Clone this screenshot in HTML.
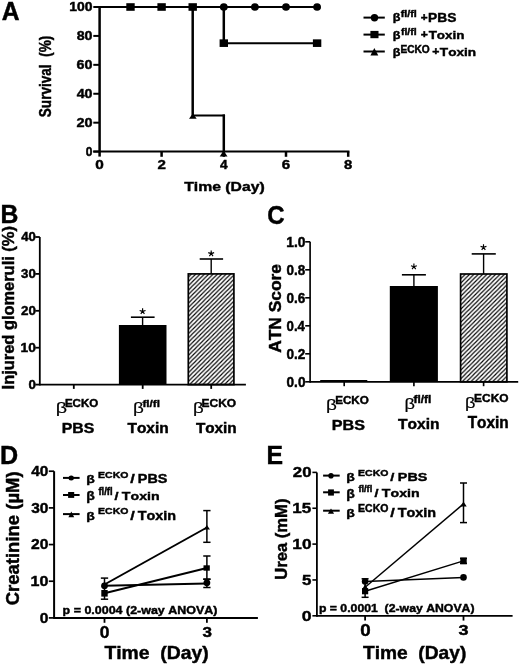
<!DOCTYPE html>
<html><head><meta charset="utf-8"><style>
html,body{margin:0;padding:0;background:#fff;}
svg{display:block;filter:grayscale(1);}
text{font-family:"Liberation Sans",sans-serif;fill:#000;white-space:pre;font-variant-ligatures:none;font-kerning:none;}
line,polyline,path{stroke:#000;stroke-linecap:butt;}
</style></head><body>
<svg xml:space="preserve" width="520" height="666" viewBox="0 0 520 666">
<defs>
<pattern id="hatch" patternUnits="userSpaceOnUse" width="4.35" height="4.35">
<path d="M-1,1 L1,-1 M0,4.35 L4.35,0 M3.35,5.35 L5.35,3.35" stroke="#000" stroke-width="1.15"/>
</pattern>
</defs>
<rect width="520" height="666" fill="#fff"/>
<text transform="translate(1.78,19.6) scale(0.9620,1)" font-size="25.6" font-weight="bold" stroke="#000" stroke-width="0.46">A</text>
<line x1="99.6" y1="6" x2="99.6" y2="156.6" stroke-width="2.5"/>
<line x1="93.3" y1="151.6" x2="349.45" y2="151.6" stroke-width="2"/>
<line x1="93.3" y1="151.6" x2="99.6" y2="151.6" stroke-width="2"/>
<line x1="93.3" y1="122.68" x2="99.6" y2="122.68" stroke-width="2"/>
<line x1="93.3" y1="93.76" x2="99.6" y2="93.76" stroke-width="2"/>
<line x1="93.3" y1="64.84" x2="99.6" y2="64.84" stroke-width="2"/>
<line x1="93.3" y1="35.92" x2="99.6" y2="35.92" stroke-width="2"/>
<line x1="93.3" y1="7" x2="99.6" y2="7" stroke-width="2"/>
<line x1="161.6" y1="151.6" x2="161.6" y2="156.8" stroke-width="2.5"/>
<line x1="223.8" y1="151.6" x2="223.8" y2="156.8" stroke-width="2.5"/>
<line x1="286" y1="151.6" x2="286" y2="156.8" stroke-width="2.5"/>
<line x1="348.2" y1="151.6" x2="348.2" y2="156.8" stroke-width="2.5"/>
<text transform="translate(85.72,155.8) scale(0.9964,1)" font-size="12.04" font-weight="bold" stroke="#000" stroke-width="0.45">0</text>
<text transform="translate(76.39,126.88) scale(1.2034,1)" font-size="12.04" font-weight="bold" stroke="#000" stroke-width="0.41">20</text>
<text transform="translate(76.69,97.96) scale(1.1806,1)" font-size="12.04" font-weight="bold" stroke="#000" stroke-width="0.41">40</text>
<text transform="translate(76.56,69.04) scale(1.1902,1)" font-size="12.04" font-weight="bold" stroke="#000" stroke-width="0.41">60</text>
<text transform="translate(76.64,40.12) scale(1.1845,1)" font-size="12.04" font-weight="bold" stroke="#000" stroke-width="0.41">80</text>
<text transform="translate(69.23,11.2) scale(1.1567,1)" font-size="12.04" font-weight="bold" stroke="#000" stroke-width="0.42">100</text>
<text transform="translate(95.14,168.9) scale(1.2044,1)" font-size="12.76" font-weight="bold" stroke="#000" stroke-width="0.41">0</text>
<text transform="translate(157.42,168.9) scale(1.1857,1)" font-size="12.76" font-weight="bold" stroke="#000" stroke-width="0.41">2</text>
<text transform="translate(219.95,168.9) scale(1.0540,1)" font-size="12.95" font-weight="bold" stroke="#000" stroke-width="0.44">4</text>
<text transform="translate(281.78,168.9) scale(1.1857,1)" font-size="12.76" font-weight="bold" stroke="#000" stroke-width="0.41">6</text>
<text transform="translate(344.07,168.9) scale(1.1616,1)" font-size="12.76" font-weight="bold" stroke="#000" stroke-width="0.42">8</text>
<text transform="translate(184.14,191.3) scale(1.1909,1)" font-size="13.24" font-weight="bold" stroke="#000" stroke-width="0.41">Time (Day)</text>
<text transform="translate(50.9,117.21) rotate(-90) scale(0.8408,1)" font-size="16.15" font-weight="bold" stroke="#000" stroke-width="0.45">Survival  (%)</text>
<line x1="99.6" y1="7" x2="317.1" y2="7" stroke-width="2"/>
<line x1="223.8" y1="7" x2="223.8" y2="43.15" stroke-width="2.5"/>
<line x1="222.55" y1="43.15" x2="317.1" y2="43.15" stroke-width="2"/>
<line x1="192.7" y1="7" x2="192.7" y2="116.45" stroke-width="2.5"/>
<line x1="192.7" y1="115.45" x2="225.05" y2="115.45" stroke-width="2"/>
<line x1="223.8" y1="114.45" x2="223.8" y2="151.6" stroke-width="2.5"/>
<ellipse cx="223.8" cy="7" rx="3.9" ry="3.8" fill="#000" stroke="none"/>
<ellipse cx="254.9" cy="7" rx="3.9" ry="3.8" fill="#000" stroke="none"/>
<ellipse cx="286" cy="7" rx="3.9" ry="3.8" fill="#000" stroke="none"/>
<ellipse cx="317.1" cy="7" rx="3.9" ry="3.8" fill="#000" stroke="none"/>
<rect x="126.3" y="3.2" width="8.4" height="7.6" fill="#000" stroke="none"/>
<rect x="157.4" y="3.2" width="8.4" height="7.6" fill="#000" stroke="none"/>
<rect x="188.5" y="3.2" width="8.4" height="7.6" fill="#000" stroke="none"/>
<rect x="219.6" y="39.35" width="8.4" height="7.6" fill="#000" stroke="none"/>
<rect x="312.9" y="39.35" width="8.4" height="7.6" fill="#000" stroke="none"/>
<polygon points="189,118.7 196.7,118.7 192.85,113.6" fill="#000" stroke="none"/>
<polygon points="219.7,156.5 227.5,156.5 223.6,150.6" fill="#000" stroke="none"/>
<line x1="363.5" y1="17.6" x2="384.8" y2="17.6" stroke-width="2"/>
<line x1="363.5" y1="34.6" x2="384.8" y2="34.6" stroke-width="2"/>
<line x1="363.5" y1="51.5" x2="384.8" y2="51.5" stroke-width="2"/>
<ellipse cx="374.5" cy="17.8" rx="3.7" ry="3.7" fill="#000" stroke="none"/>
<rect x="370.4" y="30.9" width="8.1" height="7.3" fill="#000" stroke="none"/>
<polygon points="370.4,55.4 378.3,55.4 374.35,48" fill="#000" stroke="none"/>
<text transform="translate(392.72,21.45) scale(1.1643,1)" font-size="10.83" font-weight="bold" stroke="#000" stroke-width="0.42">β</text>
<text transform="translate(400.71,17.3) scale(1.2190,1)" font-size="8.83" font-weight="bold" stroke="#000" stroke-width="0.41">fl/fl</text>
<text transform="translate(420.8,21) scale(1.1365,1)" font-size="10.38" font-weight="bold" stroke="#000" stroke-width="0.42">+</text>
<text transform="translate(428.07,22.1) scale(1.1550,1)" font-size="11.9" font-weight="bold" stroke="#000" stroke-width="0.42">PBS</text>
<text transform="translate(392.72,38.93) scale(1.1529,1)" font-size="10.94" font-weight="bold" stroke="#000" stroke-width="0.42">β</text>
<text transform="translate(400.92,34.7) scale(1.2058,1)" font-size="8.69" font-weight="bold" stroke="#000" stroke-width="0.41">fl/fl</text>
<text transform="translate(420.78,38) scale(1.1946,1)" font-size="10.21" font-weight="bold" stroke="#000" stroke-width="0.41">+</text>
<text transform="translate(428.67,39.1) scale(1.2832,1)" font-size="10.47" font-weight="bold" stroke="#000" stroke-width="0.39">Toxin</text>
<text transform="translate(392.72,55.83) scale(1.1529,1)" font-size="10.94" font-weight="bold" stroke="#000" stroke-width="0.42">β</text>
<text transform="translate(400.41,52.5) scale(0.9862,1)" font-size="10.32" font-weight="bold" stroke="#000" stroke-width="0.45">ECKO</text>
<text transform="translate(432.28,55.4) scale(1.1750,1)" font-size="10.38" font-weight="bold" stroke="#000" stroke-width="0.41">+</text>
<text transform="translate(439.86,56.4) scale(1.2336,1)" font-size="11.05" font-weight="bold" stroke="#000" stroke-width="0.4">Toxin</text>
<text transform="translate(0.43,222.8) scale(0.9561,1)" font-size="25.89" font-weight="bold" stroke="#000" stroke-width="0.46">B</text>
<line x1="39.8" y1="237" x2="39.8" y2="385.5" stroke-width="1.8"/>
<line x1="39.8" y1="384.6" x2="245.9" y2="384.6" stroke-width="1.8"/>
<line x1="35.3" y1="384.6" x2="39.8" y2="384.6" stroke-width="1.8"/>
<line x1="35.3" y1="347.7" x2="39.8" y2="347.7" stroke-width="1.8"/>
<line x1="35.3" y1="310.8" x2="39.8" y2="310.8" stroke-width="1.8"/>
<line x1="35.3" y1="273.9" x2="39.8" y2="273.9" stroke-width="1.8"/>
<line x1="35.3" y1="237" x2="39.8" y2="237" stroke-width="1.8"/>
<line x1="73.8" y1="384.6" x2="73.8" y2="388.9" stroke-width="1.8"/>
<line x1="142.7" y1="384.6" x2="142.7" y2="388.9" stroke-width="1.8"/>
<line x1="211.2" y1="384.6" x2="211.2" y2="388.9" stroke-width="1.8"/>
<text transform="translate(28.47,389) scale(1.0279,1)" font-size="12.9" font-weight="bold" stroke="#000" stroke-width="0.44">0</text>
<text transform="translate(20.54,352.1) scale(1.0692,1)" font-size="12.9" font-weight="bold" stroke="#000" stroke-width="0.43">10</text>
<text transform="translate(20.93,315.2) scale(1.0408,1)" font-size="12.9" font-weight="bold" stroke="#000" stroke-width="0.44">20</text>
<text transform="translate(21.1,278.3) scale(1.0284,1)" font-size="12.9" font-weight="bold" stroke="#000" stroke-width="0.44">30</text>
<text transform="translate(21.2,241.4) scale(1.0211,1)" font-size="12.9" font-weight="bold" stroke="#000" stroke-width="0.45">40</text>
<text transform="translate(13.6,389.41) rotate(-90) scale(1.0372,1)" font-size="15.85" font-weight="bold" stroke="#000" stroke-width="0.45">Injured glomeruli (%)</text>
<rect x="118.9" y="325" width="47.6" height="59.6" fill="#000" stroke="none"/>
<line x1="142.6" y1="325" x2="142.6" y2="317.2" stroke-width="1.4"/>
<line x1="130.9" y1="317.2" x2="154.6" y2="317.2" stroke-width="1.6"/>
<rect x="188.3" y="273.9" width="45.6" height="110.7" fill="url(#hatch)" stroke="#000" stroke-width="1.7"/>
<line x1="211.2" y1="274" x2="211.2" y2="259" stroke-width="1.4"/>
<line x1="199.7" y1="259" x2="223.1" y2="259" stroke-width="1.6"/>
<path d="M142.6,311.4L142.6,308.3M142.6,311.4L145.55,310.44M142.6,311.4L144.42,313.91M142.6,311.4L140.78,313.91M142.6,311.4L139.65,310.44" stroke-width="1.15" stroke-linecap="round" fill="none"/>
<path d="M211.2,253.6L211.2,250.5M211.2,253.6L214.15,252.64M211.2,253.6L213.02,256.11M211.2,253.6L209.38,256.11M211.2,253.6L208.25,252.64" stroke-width="1.15" stroke-linecap="round" fill="none"/>
<text transform="translate(55.72,413.47) scale(1.3339,1)" font-size="14.71" font-weight="normal" font-family="Liberation Serif" stroke="#000" stroke-width="0.17">β</text>
<text transform="translate(64.92,407.1) scale(1.0884,1)" font-size="10.61" font-weight="bold" stroke="#000" stroke-width="0.43">ECKO</text>
<text transform="translate(61.73,433.1) scale(1.0731,1)" font-size="14.77" font-weight="bold" stroke="#000" stroke-width="0.43">PBS</text>
<text transform="translate(132.97,413.19) scale(1.3326,1)" font-size="14.17" font-weight="normal" font-family="Liberation Serif" stroke="#000" stroke-width="0.17">β</text>
<text transform="translate(142.4,407.1) scale(1.2454,1)" font-size="9.38" font-weight="bold" stroke="#000" stroke-width="0.4">fl/fl</text>
<text transform="translate(127.45,433.1) scale(1.0320,1)" font-size="14.98" font-weight="bold" stroke="#000" stroke-width="0.44">Toxin</text>
<text transform="translate(192.89,413.32) scale(1.2854,1)" font-size="14.5" font-weight="normal" font-family="Liberation Serif" stroke="#000" stroke-width="0.18">β</text>
<text transform="translate(201.59,407.1) scale(1.1290,1)" font-size="10.61" font-weight="bold" stroke="#000" stroke-width="0.42">ECKO</text>
<text transform="translate(195.95,433.1) scale(1.0214,1)" font-size="14.98" font-weight="bold" stroke="#000" stroke-width="0.45">Toxin</text>
<text transform="translate(267.24,223.7) scale(0.9037,1)" font-size="26.52" font-weight="bold" stroke="#000" stroke-width="0.47">C</text>
<line x1="310.1" y1="241.8" x2="310.1" y2="382.7" stroke-width="1.65"/>
<line x1="310.1" y1="381.8" x2="518.2" y2="381.8" stroke-width="1.65"/>
<line x1="305.2" y1="381.8" x2="310.1" y2="381.8" stroke-width="1.65"/>
<line x1="305.2" y1="353.8" x2="310.1" y2="353.8" stroke-width="1.65"/>
<line x1="305.2" y1="325.8" x2="310.1" y2="325.8" stroke-width="1.65"/>
<line x1="305.2" y1="297.8" x2="310.1" y2="297.8" stroke-width="1.65"/>
<line x1="305.2" y1="269.8" x2="310.1" y2="269.8" stroke-width="1.65"/>
<line x1="305.2" y1="241.8" x2="310.1" y2="241.8" stroke-width="1.65"/>
<line x1="344.2" y1="381.8" x2="344.2" y2="386.2" stroke-width="1.65"/>
<line x1="413.9" y1="381.8" x2="413.9" y2="386.2" stroke-width="1.65"/>
<line x1="483.6" y1="381.8" x2="483.6" y2="386.2" stroke-width="1.65"/>
<text transform="translate(286.56,386.7) scale(0.9201,1)" font-size="14.77" font-weight="bold" stroke="#000" stroke-width="0.47">0.0</text>
<text transform="translate(286.56,358.7) scale(0.9184,1)" font-size="14.77" font-weight="bold" stroke="#000" stroke-width="0.47">0.2</text>
<text transform="translate(286.57,330.7) scale(0.8962,1)" font-size="14.77" font-weight="bold" stroke="#000" stroke-width="0.47">0.4</text>
<text transform="translate(286.56,302.7) scale(0.9166,1)" font-size="14.77" font-weight="bold" stroke="#000" stroke-width="0.47">0.6</text>
<text transform="translate(286.56,274.7) scale(0.9132,1)" font-size="14.77" font-weight="bold" stroke="#000" stroke-width="0.47">0.8</text>
<text transform="translate(286.24,246.7) scale(0.9362,1)" font-size="14.77" font-weight="bold" stroke="#000" stroke-width="0.46">1.0</text>
<text transform="translate(280.9,352.83) rotate(-90) scale(1.0046,1)" font-size="17.31" font-weight="bold" stroke="#000" stroke-width="0.45">ATN Score</text>
<rect x="320.2" y="380" width="47.1" height="1.8" fill="#000" stroke="none"/>
<rect x="389.8" y="286" width="48.1" height="95.8" fill="#000" stroke="none"/>
<line x1="413.9" y1="286" x2="413.9" y2="274.8" stroke-width="1.4"/>
<line x1="401.9" y1="274.8" x2="425.9" y2="274.8" stroke-width="1.6"/>
<rect x="460.6" y="274.0" width="46.3" height="107.8" fill="url(#hatch)" stroke="#000" stroke-width="1.7"/>
<line x1="483.6" y1="274" x2="483.6" y2="253.9" stroke-width="1.4"/>
<line x1="471.7" y1="253.9" x2="495.8" y2="253.9" stroke-width="1.6"/>
<path d="M413.9,266.7L413.9,263.6M413.9,266.7L416.85,265.74M413.9,266.7L415.72,269.21M413.9,266.7L412.08,269.21M413.9,266.7L410.95,265.74" stroke-width="1.15" stroke-linecap="round" fill="none"/>
<path d="M483.5,247.3L483.5,244.2M483.5,247.3L486.45,246.34M483.5,247.3L485.32,249.81M483.5,247.3L481.68,249.81M483.5,247.3L480.55,246.34" stroke-width="1.15" stroke-linecap="round" fill="none"/>
<text transform="translate(326.07,410.23) scale(1.2645,1)" font-size="14.93" font-weight="normal" font-family="Liberation Serif" stroke="#000" stroke-width="0.18">β</text>
<text transform="translate(335.21,403.7) scale(1.0985,1)" font-size="10.61" font-weight="bold" stroke="#000" stroke-width="0.43">ECKO</text>
<text transform="translate(331.71,429.6) scale(1.0939,1)" font-size="14.77" font-weight="bold" stroke="#000" stroke-width="0.43">PBS</text>
<text transform="translate(404.52,409.02) scale(1.2512,1)" font-size="14.5" font-weight="normal" font-family="Liberation Serif" stroke="#000" stroke-width="0.18">β</text>
<text transform="translate(413.59,402.7) scale(1.1583,1)" font-size="10.21" font-weight="bold" stroke="#000" stroke-width="0.42">fl/fl</text>
<text transform="translate(398.04,429) scale(1.0079,1)" font-size="15.42" font-weight="bold" stroke="#000" stroke-width="0.45">Toxin</text>
<text transform="translate(464.92,407.73) scale(1.2146,1)" font-size="14.93" font-weight="normal" font-family="Liberation Serif" stroke="#000" stroke-width="0.18">β</text>
<text transform="translate(474.1,401.7) scale(1.0927,1)" font-size="10.9" font-weight="bold" stroke="#000" stroke-width="0.43">ECKO</text>
<text transform="translate(467.65,428.3) scale(0.9702,1)" font-size="15.85" font-weight="bold" stroke="#000" stroke-width="0.46">Toxin</text>
<text transform="translate(0.1,463.7) scale(0.9550,1)" font-size="26.33" font-weight="bold" stroke="#000" stroke-width="0.46">D</text>
<line x1="54.1" y1="471.22" x2="54.1" y2="618.9" stroke-width="2"/>
<line x1="54.1" y1="617.9" x2="257.9" y2="617.9" stroke-width="2"/>
<line x1="48.8" y1="617.9" x2="54.1" y2="617.9" stroke-width="1.7"/>
<line x1="48.8" y1="581.23" x2="54.1" y2="581.23" stroke-width="1.7"/>
<line x1="48.8" y1="544.56" x2="54.1" y2="544.56" stroke-width="1.7"/>
<line x1="48.8" y1="507.89" x2="54.1" y2="507.89" stroke-width="1.7"/>
<line x1="48.8" y1="471.22" x2="54.1" y2="471.22" stroke-width="1.7"/>
<line x1="104.5" y1="617.9" x2="104.5" y2="622.8" stroke-width="1.8"/>
<line x1="206.89" y1="617.9" x2="206.89" y2="622.8" stroke-width="1.8"/>
<text transform="translate(39.68,622.6) scale(1.0251,1)" font-size="15.2" font-weight="bold" stroke="#000" stroke-width="0.44">0</text>
<text transform="translate(30.5,585.93) scale(1.0581,1)" font-size="15.2" font-weight="bold" stroke="#000" stroke-width="0.44">10</text>
<text transform="translate(30.95,549.26) scale(1.0299,1)" font-size="15.2" font-weight="bold" stroke="#000" stroke-width="0.44">20</text>
<text transform="translate(31.15,512.59) scale(1.0177,1)" font-size="15.2" font-weight="bold" stroke="#000" stroke-width="0.45">30</text>
<text transform="translate(31.27,475.92) scale(1.0104,1)" font-size="15.2" font-weight="bold" stroke="#000" stroke-width="0.45">40</text>
<text transform="translate(99.7,637.7) scale(1.0882,1)" font-size="16.06" font-weight="bold" stroke="#000" stroke-width="0.43">0</text>
<text transform="translate(202.52,636.5) scale(1.1243,1)" font-size="15.2" font-weight="bold" stroke="#000" stroke-width="0.42">3</text>
<text transform="translate(104.41,659.2) scale(1.0326,1)" font-size="18.76" font-weight="bold" stroke="#000" stroke-width="0.44">Time  (Day)</text>
<text transform="translate(19,605.24) rotate(-90) scale(0.9775,1)" font-size="18.91" font-weight="bold" stroke="#000" stroke-width="0.45">Creatinine (µM)</text>
<text transform="translate(62.59,614.4) scale(1.0881,1)" font-size="11.47" font-weight="bold" stroke="#000" stroke-width="0.43">p = 0.0004 (2-way ANOVA)</text>
<line x1="104.5" y1="578.1" x2="104.5" y2="599.2" stroke-width="1.5"/><line x1="100.85" y1="578.1" x2="108.15" y2="578.1" stroke-width="1.5"/><line x1="100.85" y1="599.2" x2="108.15" y2="599.2" stroke-width="1.5"/>
<line x1="206.89" y1="510.6" x2="206.89" y2="542.3" stroke-width="1.5"/><line x1="203.24" y1="510.6" x2="210.54" y2="510.6" stroke-width="1.5"/><line x1="203.24" y1="542.3" x2="210.54" y2="542.3" stroke-width="1.5"/>
<line x1="206.89" y1="556" x2="206.89" y2="579.2" stroke-width="1.5"/><line x1="203.24" y1="556" x2="210.54" y2="556" stroke-width="1.5"/><line x1="203.24" y1="579.2" x2="210.54" y2="579.2" stroke-width="1.5"/>
<line x1="206.89" y1="579.2" x2="206.89" y2="587.5" stroke-width="1.5"/><line x1="203.24" y1="579.2" x2="210.54" y2="579.2" stroke-width="1.5"/><line x1="203.24" y1="587.5" x2="210.54" y2="587.5" stroke-width="1.5"/>
<polyline points="104.5,585.8 206.89,583.4" stroke-width="2" fill="none" stroke-linejoin="miter"/>
<polyline points="104.5,593.3 206.89,568" stroke-width="2" fill="none" stroke-linejoin="miter"/>
<polyline points="104.5,584.5 206.89,527.5" stroke-width="2" fill="none" stroke-linejoin="miter"/>
<ellipse cx="104.5" cy="585.8" rx="3.4" ry="3.4" fill="#000" stroke="none"/>
<ellipse cx="206.89" cy="582.8" rx="3.4" ry="3.4" fill="#000" stroke="none"/>
<rect x="101.3" y="590" width="6.4" height="6.6" fill="#000" stroke="none"/>
<rect x="203.5" y="565.3" width="6.3" height="5.4" fill="#000" stroke="none"/>
<polygon points="101.3,586.5 107.7,586.5 104.5,581.5" fill="#000" stroke="none"/>
<polygon points="203.8,529.4 210,529.4 206.9,525" fill="#000" stroke="none"/>
<line x1="63" y1="477.9" x2="79.6" y2="477.9" stroke-width="2"/>
<line x1="63" y1="495" x2="79.6" y2="495" stroke-width="2"/>
<line x1="63" y1="514.1" x2="79.6" y2="514.1" stroke-width="2"/>
<ellipse cx="71.2" cy="478" rx="2.7" ry="2.5" fill="#000" stroke="none"/>
<rect x="68.1" y="492" width="6.1" height="5.9" fill="#000" stroke="none"/>
<polygon points="68.4,517.3 74.2,517.3 71.3,511.4" fill="#000" stroke="none"/>
<text transform="translate(86.22,482.65) scale(1.1860,1)" font-size="11.8" font-weight="bold" stroke="#000" stroke-width="0.41">β</text>
<text transform="translate(98.09,477.5) scale(1.1817,1)" font-size="8.89" font-weight="bold" stroke="#000" stroke-width="0.41">ECKO</text>
<text transform="translate(130.34,482.7) scale(1.3039,1)" font-size="12.51" font-weight="bold" stroke="#000" stroke-width="0.39">/</text>
<text transform="translate(137.83,482.7) scale(1.1646,1)" font-size="12.33" font-weight="bold" stroke="#000" stroke-width="0.42">PBS</text>
<text transform="translate(86.22,499.59) scale(1.1545,1)" font-size="12.12" font-weight="bold" stroke="#000" stroke-width="0.42">β</text>
<text transform="translate(98.44,495.2) scale(0.9351,1)" font-size="10.07" font-weight="bold" stroke="#000" stroke-width="0.47">fl/fl</text>
<text transform="translate(114.56,499.9) scale(1.2196,1)" font-size="11.78" font-weight="bold" stroke="#000" stroke-width="0.41">/</text>
<text transform="translate(121.86,499.9) scale(1.2046,1)" font-size="11.78" font-weight="bold" stroke="#000" stroke-width="0.41">Toxin</text>
<text transform="translate(86.22,519.65) scale(1.1860,1)" font-size="11.8" font-weight="bold" stroke="#000" stroke-width="0.41">β</text>
<text transform="translate(98.09,514.1) scale(1.0935,1)" font-size="9.61" font-weight="bold" stroke="#000" stroke-width="0.43">ECKO</text>
<text transform="translate(130.34,519.8) scale(1.2889,1)" font-size="12.65" font-weight="bold" stroke="#000" stroke-width="0.39">/</text>
<text transform="translate(137.66,519.8) scale(1.1372,1)" font-size="12.65" font-weight="bold" stroke="#000" stroke-width="0.42">Toxin</text>
<text transform="translate(266.52,464) scale(0.9376,1)" font-size="26.47" font-weight="bold" stroke="#000" stroke-width="0.46">E</text>
<line x1="316.9" y1="472.4" x2="316.9" y2="616.8" stroke-width="1.8"/>
<line x1="316.9" y1="615.8" x2="512.6" y2="615.8" stroke-width="1.8"/>
<line x1="312.4" y1="615.8" x2="316.9" y2="615.8" stroke-width="1.6"/>
<line x1="312.4" y1="579.95" x2="316.9" y2="579.95" stroke-width="1.6"/>
<line x1="312.4" y1="544.1" x2="316.9" y2="544.1" stroke-width="1.6"/>
<line x1="312.4" y1="508.25" x2="316.9" y2="508.25" stroke-width="1.6"/>
<line x1="312.4" y1="472.4" x2="316.9" y2="472.4" stroke-width="1.6"/>
<line x1="365.1" y1="615.8" x2="365.1" y2="620.6" stroke-width="1.8"/>
<line x1="463.5" y1="615.8" x2="463.5" y2="620.6" stroke-width="1.8"/>
<text transform="translate(301.69,620.5) scale(1.1860,1)" font-size="14.91" font-weight="bold" stroke="#000" stroke-width="0.41">0</text>
<text transform="translate(301.89,584.65) scale(1.1162,1)" font-size="15.13" font-weight="bold" stroke="#000" stroke-width="0.43">5</text>
<text transform="translate(292.32,548.8) scale(1.1583,1)" font-size="14.91" font-weight="bold" stroke="#000" stroke-width="0.42">10</text>
<text transform="translate(292.33,512.95) scale(1.1277,1)" font-size="15.13" font-weight="bold" stroke="#000" stroke-width="0.42">15</text>
<text transform="translate(292.81,477.1) scale(1.1275,1)" font-size="14.91" font-weight="bold" stroke="#000" stroke-width="0.42">20</text>
<text transform="translate(360.25,635.6) scale(1.1990,1)" font-size="15.63" font-weight="bold" stroke="#000" stroke-width="0.41">0</text>
<text transform="translate(458.49,634.7) scale(1.1683,1)" font-size="15.48" font-weight="bold" stroke="#000" stroke-width="0.42">3</text>
<text transform="translate(362.91,658.7) scale(1.0225,1)" font-size="18.76" font-weight="bold" stroke="#000" stroke-width="0.44">Time  (Day)</text>
<text transform="translate(286.9,579.8) rotate(-90) scale(0.9609,1)" font-size="17.31" font-weight="bold" stroke="#000" stroke-width="0.45">Urea (mM)</text>
<text transform="translate(318.9,611.9) scale(1.1713,1)" font-size="10.47" font-weight="bold" stroke="#000" stroke-width="0.41">p = 0.0001  (2-way ANOVA)</text>
<line x1="365.1" y1="578.8" x2="365.1" y2="597.3" stroke-width="1.5"/><line x1="361.6" y1="578.8" x2="368.6" y2="578.8" stroke-width="1.5"/><line x1="361.6" y1="597.3" x2="368.6" y2="597.3" stroke-width="1.5"/>
<line x1="463.5" y1="483" x2="463.5" y2="522.6" stroke-width="1.5"/><line x1="460" y1="483" x2="467" y2="483" stroke-width="1.5"/><line x1="460" y1="522.6" x2="467" y2="522.6" stroke-width="1.5"/>
<line x1="463.5" y1="558.4" x2="463.5" y2="563.4" stroke-width="1.5"/><line x1="460" y1="558.4" x2="467" y2="558.4" stroke-width="1.5"/><line x1="460" y1="563.4" x2="467" y2="563.4" stroke-width="1.5"/>
<polyline points="365.1,581.5 463.5,577.4" stroke-width="1.5" fill="none" stroke-linejoin="miter"/>
<polyline points="365.1,591.2 463.5,560.9" stroke-width="1.5" fill="none" stroke-linejoin="miter"/>
<polyline points="365.1,587.3 463.5,503.9" stroke-width="1.5" fill="none" stroke-linejoin="miter"/>
<ellipse cx="365.1" cy="581.5" rx="3.3" ry="3.3" fill="#000" stroke="none"/>
<ellipse cx="463.5" cy="577.4" rx="3.3" ry="3.3" fill="#000" stroke="none"/>
<rect x="362" y="588.1" width="6.2" height="6.2" fill="#000" stroke="none"/>
<rect x="460.3" y="557.6" width="6.4" height="6.6" fill="#000" stroke="none"/>
<polygon points="361.9,589.5 368.3,589.5 365.1,584.5" fill="#000" stroke="none"/>
<polygon points="460.3,506.4 466.7,506.4 463.5,501.4" fill="#000" stroke="none"/>
<line x1="323.1" y1="475.6" x2="339.7" y2="475.6" stroke-width="2"/>
<line x1="323.1" y1="492.3" x2="339.7" y2="492.3" stroke-width="2"/>
<line x1="323.1" y1="510.7" x2="339.7" y2="510.7" stroke-width="2"/>
<ellipse cx="331" cy="475.7" rx="2.7" ry="2.8" fill="#000" stroke="none"/>
<rect x="328.1" y="489.4" width="5.8" height="6.2" fill="#000" stroke="none"/>
<polygon points="327.9,513.8 334.1,513.8 331,508.4" fill="#000" stroke="none"/>
<text transform="translate(346.22,481.27) scale(1.1969,1)" font-size="11.69" font-weight="bold" stroke="#000" stroke-width="0.41">β</text>
<text transform="translate(358.09,475.9) scale(1.2210,1)" font-size="8.6" font-weight="bold" stroke="#000" stroke-width="0.41">ECKO</text>
<text transform="translate(390.35,480.9) scale(1.2525,1)" font-size="11.78" font-weight="bold" stroke="#000" stroke-width="0.4">/</text>
<text transform="translate(397.83,480.9) scale(1.2365,1)" font-size="11.61" font-weight="bold" stroke="#000" stroke-width="0.4">PBS</text>
<text transform="translate(346.22,497.59) scale(1.1545,1)" font-size="12.12" font-weight="bold" stroke="#000" stroke-width="0.42">β</text>
<text transform="translate(358.44,492.4) scale(0.9670,1)" font-size="9.52" font-weight="bold" stroke="#000" stroke-width="0.46">fl/fl</text>
<text transform="translate(374.56,497.3) scale(1.3172,1)" font-size="10.91" font-weight="bold" stroke="#000" stroke-width="0.39">/</text>
<text transform="translate(381.86,497.3) scale(1.3010,1)" font-size="10.91" font-weight="bold" stroke="#000" stroke-width="0.39">Toxin</text>
<text transform="translate(346.22,517.02) scale(1.2192,1)" font-size="11.47" font-weight="bold" stroke="#000" stroke-width="0.41">β</text>
<text transform="translate(358.09,511.5) scale(1.0319,1)" font-size="10.18" font-weight="bold" stroke="#000" stroke-width="0.44">ECKO</text>
<text transform="translate(390.34,517.2) scale(1.3192,1)" font-size="12.36" font-weight="bold" stroke="#000" stroke-width="0.39">/</text>
<text transform="translate(397.66,517.2) scale(1.1639,1)" font-size="12.36" font-weight="bold" stroke="#000" stroke-width="0.42">Toxin</text>
</svg>
</body></html>
